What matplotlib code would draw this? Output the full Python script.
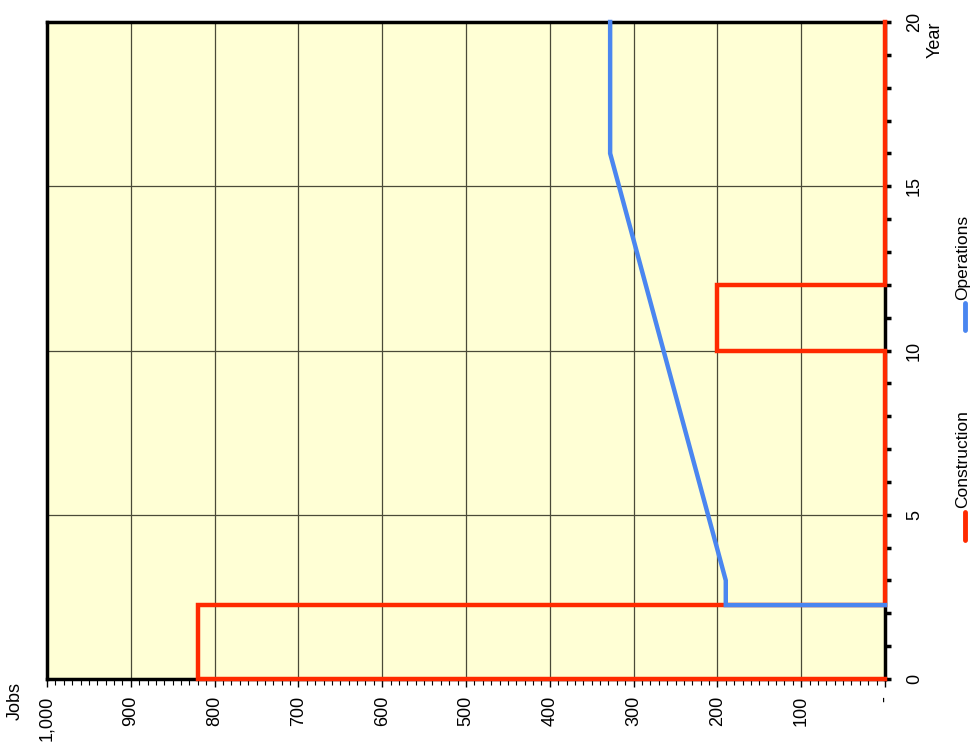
import matplotlib.pyplot as plt
from matplotlib.ticker import MultipleLocator, FuncFormatter
from matplotlib.lines import Line2D

plt.rcParams['font.family'] = ['Liberation Sans Narrow', 'Liberation Sans', 'DejaVu Sans']

# data (year, jobs) -- chart is drawn rotated: years go up, jobs go left
years_construction = [0, 0, 2.25, 2.25, 10, 10, 12, 12, 20]
jobs_construction = [0, 820, 820, 0, 0, 200, 200, 0, 0]
years_operations = [2.25, 2.25, 3, 16, 20]
jobs_operations = [0, 190, 190, 328, 328]

red = '#FF2A00'
blue = '#4A86F0'

fig = plt.figure(figsize=(9.8, 7.52), dpi=100)
ax = fig.add_axes([47 / 980, 1 - 679 / 752, 838 / 980, 657 / 752])
ax.set_facecolor('#FFFFD5')

ax.plot(jobs_construction, years_construction, color=red, lw=3.2,
        solid_joinstyle='miter', clip_on=False, zorder=4)
ax.plot(jobs_operations, years_operations, color=blue, lw=3.2,
        solid_joinstyle='miter', clip_on=False, zorder=4)

ax.set_xlim(1000, 0)
ax.set_ylim(0, 20)

ax.xaxis.set_major_locator(MultipleLocator(100))
ax.xaxis.set_minor_locator(MultipleLocator(10))
ax.yaxis.set_major_locator(MultipleLocator(5))
ax.yaxis.set_minor_locator(MultipleLocator(1))
ax.xaxis.set_major_formatter(FuncFormatter(lambda v, p: '-' if v == 0 else '{:,}'.format(int(v))))

ax.yaxis.tick_right()
ax.grid(True, which='major', color='#4A4A38', lw=0.9)
ax.set_axisbelow(True)

for s in ax.spines.values():
    s.set_linewidth(2.5)
    s.set_color('black')

ax.tick_params(axis='x', which='major', direction='out', length=6, width=1,
               labelrotation=90, labelsize=13, pad=6)
ax.tick_params(axis='x', which='minor', direction='out', length=4, width=0.8)
ax.tick_params(axis='y', which='major', direction='out', length=4, width=2.5,
               labelrotation=90, labelsize=13, pad=11)
ax.tick_params(axis='y', which='minor', direction='out', length=4, width=2.5)
for lab in ax.get_yticklabels():
    lab.set_va('center')

fig.text(935 / 980, 1 - 22 / 752, 'Year', rotation=90, ha='center', va='top', fontsize=13)
fig.text(15 / 980, 1 - 720 / 752, 'Jobs', rotation=90, ha='center', va='bottom', fontsize=13)

# legend, rotated like the rest of the chart
fig.add_artist(Line2D([965 / 980, 965 / 980], [1 - 540 / 752, 1 - 512 / 752],
                      transform=fig.transFigure, color=red, lw=3.5, solid_capstyle='round'))
fig.text(963 / 980, 1 - 508 / 752, 'Construction', rotation=90, ha='center', va='bottom', fontsize=12.5)
fig.add_artist(Line2D([965 / 980, 965 / 980], [1 - 330 / 752, 1 - 303 / 752],
                      transform=fig.transFigure, color=blue, lw=3.5, solid_capstyle='round'))
fig.text(963 / 980, 1 - 300 / 752, 'Operations', rotation=90, ha='center', va='bottom', fontsize=12.5)

fig.savefig('out.png', dpi=100)
